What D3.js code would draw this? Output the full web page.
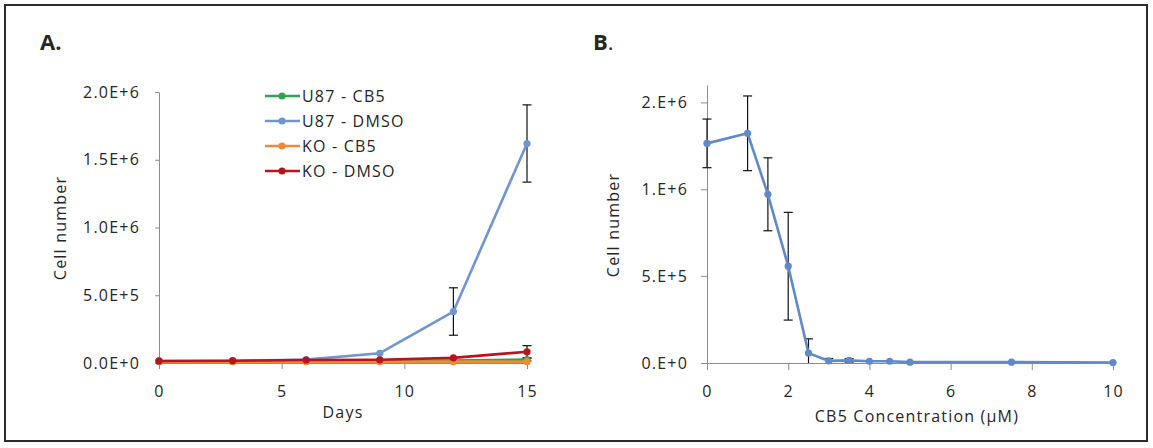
<html>
  <head>
    <meta charset="utf-8">
    <script src="https://d3js.org/d3.v7.min.js"></script>
    <style>
      body { margin: 0; background: #ffffff; }
      text { font-family: "Open Sans", sans-serif; fill: #262626; }
    </style>
    <script>

      // ---- panel A: growth over days ----
      var days = [0, 3, 6, 9, 12, 15];
      var seriesNames = ["U87 - CB5", "U87 - DMSO", "KO - CB5", "KO - DMSO"];
      var seriesColors = ["#33a056", "#6f96d0", "#ec8a36", "#b8141e"];
      var u87Cb5 = [12000, 13000, 15000, 15000, 18000, 25000];
      var u87Cb5Err = [0, 0, 0, 0, 0, 10000];
      var u87Dmso = [15000, 15000, 25000, 72000, 380000, 1620000];
      var u87DmsoErr = [0, 0, 0, 0, 175000, 285000];
      var koCb5 = [10000, 10000, 10000, 10000, 10000, 10000];
      var koCb5Err = [0, 0, 0, 0, 0, 0];
      var koDmso = [15000, 17000, 22000, 24000, 38000, 83000];
      var koDmsoErr = [0, 0, 0, 0, 0, 45000];
      var aYTicks = [0, 500000, 1000000, 1500000, 2000000];
      var aYLabels = ["0.0E+0", "5.0E+5", "1.0E+6", "1.5E+6", "2.0E+6"];
      var aXTicks = [0, 5, 10, 15];

      // ---- panel B: dose response ----
      var conc = [0, 1, 1.5, 2, 2.5, 3, 3.5, 4, 4.5, 5, 7.5, 10];
      var cells = [1264000, 1322000, 971000, 557000, 57000, 12000, 15000, 10000, 10000, 5000, 5000, 3000];
      var cellsErr = [140000, 215000, 210000, 310000, 82000, 14000, 10000, 0, 0, 0, 0, 0];
      var bYTicks = [0, 500000, 1000000, 1500000];
      var bYLabels = ["0.E+0", "5.E+5", "1.E+6", "2.E+6"];
      var bXTicks = [0, 2, 4, 6, 8, 10];

      function load(){
        var svg = d3.select("svg");

        svg.append("rect")
          .attr("x", 5).attr("y", 5).attr("width", 1142).attr("height", 436)
          .attr("fill", "none").attr("stroke", "#2b2b2b").attr("stroke-width", 2);

        function styleAxis(g) {
          g.selectAll("path, line").attr("stroke", "#8c8c8c").attr("stroke-width", 1);
          g.selectAll("text").attr("font-size", 16).attr("letter-spacing", "1.2px")
            .attr("font-family", "Open Sans, sans-serif").attr("fill", "#262626");
        }

        function errorBars(g, xs, ys, errs, x, y) {
          var d = xs.map(function(v, i) { return {x: v, y: ys[i], e: errs[i]}; })
            .filter(function(p) { return p.e > 0; });
          var eb = g.append("g").attr("stroke", "#111").attr("stroke-width", 1.2);
          eb.selectAll(".v").data(d).enter().append("line")
            .attr("x1", function(p) { return x(p.x); }).attr("x2", function(p) { return x(p.x); })
            .attr("y1", function(p) { return y(p.y + p.e); })
            .attr("y2", function(p) { return y(Math.max(0, p.y - p.e)); });
          eb.selectAll(".t").data(d).enter().append("line")
            .attr("x1", function(p) { return x(p.x) - 4.5; }).attr("x2", function(p) { return x(p.x) + 4.5; })
            .attr("y1", function(p) { return y(p.y + p.e); }).attr("y2", function(p) { return y(p.y + p.e); });
          eb.selectAll(".b").data(d.filter(function(p) { return p.y - p.e > 0; })).enter().append("line")
            .attr("x1", function(p) { return x(p.x) - 4.5; }).attr("x2", function(p) { return x(p.x) + 4.5; })
            .attr("y1", function(p) { return y(p.y - p.e); }).attr("y2", function(p) { return y(p.y - p.e); });
        }

        function series(g, xs, ys, color, x, y) {
          var line = d3.line().x(function(d, i) { return x(xs[i]); }).y(function(d) { return y(d); });
          g.append("path").datum(ys).attr("d", line)
            .attr("fill", "none").attr("stroke", color).attr("stroke-width", 2.6)
            .attr("stroke-linejoin", "round");
          g.selectAll(null).data(ys).enter().append("circle")
            .attr("cx", function(d, i) { return x(xs[i]); })
            .attr("cy", function(d) { return y(d); })
            .attr("r", 3.6).attr("fill", color);
        }

        // panel A
        var xA = d3.scaleLinear().domain([0, 15]).range([159, 527]);
        var yA = d3.scaleLinear().domain([0, 2000000]).range([363, 92]);
        var gA = svg.append("g");

        gA.append("text").attr("x", 40).attr("y", 50).text("A.")
          .attr("font-family", "Liberation Sans, Arial, sans-serif")
          .attr("font-weight", "bold").attr("font-size", 22).attr("fill", "#111");

        gA.append("g").attr("transform", "translate(159,0)")
          .call(d3.axisLeft(yA).tickValues(aYTicks).tickSize(4).tickPadding(15).tickSizeOuter(0)
            .tickFormat(function(d, i) { return aYLabels[i]; }))
          .call(styleAxis);
        gA.append("g").attr("transform", "translate(0,363)")
          .call(d3.axisBottom(xA).tickValues(aXTicks).tickSize(6).tickPadding(17).tickSizeOuter(0))
          .call(styleAxis);

        var aVals = [u87Cb5, u87Dmso, koCb5, koDmso];
        var aErrs = [u87Cb5Err, u87DmsoErr, koCb5Err, koDmsoErr];
        var drawOrder = [1, 0, 2, 3];
        drawOrder.forEach(function(k) { errorBars(gA, days, aVals[k], aErrs[k], xA, yA); });
        drawOrder.forEach(function(k) { series(gA, days, aVals[k], seriesColors[k], xA, yA); });

        gA.append("text").attr("transform", "translate(66,228) rotate(-90)")
          .attr("text-anchor", "middle").attr("font-size", 16).attr("letter-spacing", "1.2px")
          .text("Cell number");
        gA.append("text").attr("x", 343).attr("y", 418)
          .attr("text-anchor", "middle").attr("font-size", 16).attr("letter-spacing", "1.2px")
          .text("Days");

        // legend
        var legY = d3.scalePoint().domain(seriesNames).range([96, 171]);
        var leg = gA.append("g");
        seriesNames.forEach(function(name, i) {
          var yy = legY(name);
          leg.append("line").attr("x1", 265).attr("x2", 300).attr("y1", yy).attr("y2", yy)
            .attr("stroke", seriesColors[i]).attr("stroke-width", 2.6);
          leg.append("circle").attr("cx", 282).attr("cy", yy).attr("r", 3.6).attr("fill", seriesColors[i]);
          leg.append("text").attr("x", 302).attr("y", yy + 6)
            .attr("font-size", 16).attr("letter-spacing", "1.2px").text(name);
        });

        // panel B
        var xB = d3.scaleLinear().domain([0, 10]).range([707, 1113]);
        var yB = d3.scaleLinear().domain([0, 1600000]).range([363, 85]);
        var gB = svg.append("g");

        var bt = gB.append("text").attr("x", 593).attr("y", 50)
          .attr("font-family", "Liberation Sans, Arial, sans-serif").attr("font-size", 22).attr("fill", "#111");
        bt.append("tspan").attr("font-weight", "bold").text("B");
        bt.append("tspan").text(".");

        gB.append("g").attr("transform", "translate(707,0)")
          .call(d3.axisLeft(yB).tickValues(bYTicks).tickSize(6).tickPadding(13).tickSizeOuter(0)
            .tickFormat(function(d, i) { return bYLabels[i]; }))
          .call(styleAxis);
        gB.append("g").attr("transform", "translate(0,363)")
          .call(d3.axisBottom(xB).tickValues(bXTicks).tickSize(7).tickPadding(16).tickSizeOuter(0))
          .call(styleAxis);

        errorBars(gB, conc, cells, cellsErr, xB, yB);
        series(gB, conc, cells, "#5f89c9", xB, yB);

        gB.append("text").attr("transform", "translate(619,225) rotate(-90)")
          .attr("text-anchor", "middle").attr("font-size", 16).attr("letter-spacing", "1.2px")
          .text("Cell number");
        gB.append("text").attr("x", 917).attr("y", 422)
          .attr("text-anchor", "middle").attr("font-size", 16).attr("letter-spacing", "1.2px")
          .text("CB5 Concentration (\u00b5M)");
      }

    </script>
  </head>
  <body onload="load()">
    <svg width="1153" height="448"></svg>
  </body>
</html>
